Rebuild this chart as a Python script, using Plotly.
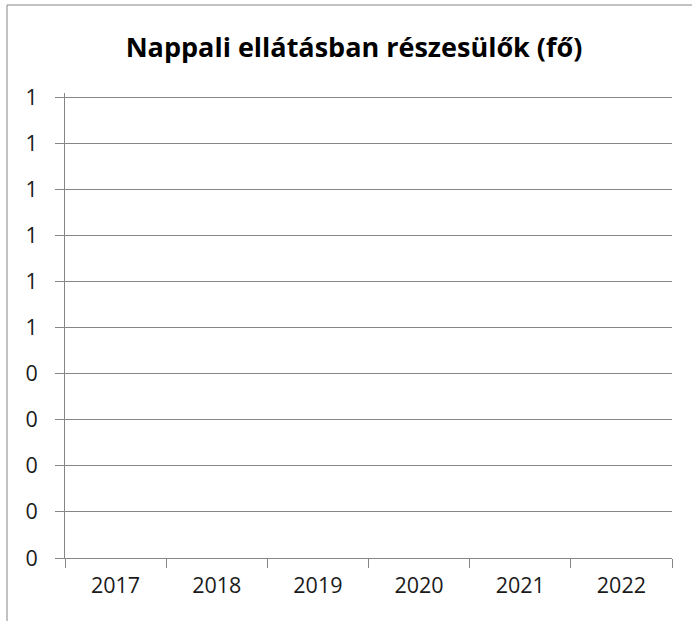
import plotly.graph_objects as go

categories = ["2017", "2018", "2019", "2020", "2021", "2022"]
values = [None, None, None, None, None, None]
y_tickvals = [0, 0.1, 0.2, 0.3, 0.4, 0.5, 0.6, 0.7, 0.8, 0.9, 1.0]
y_ticktext = ["0", "0", "0", "0", "0", "1", "1", "1", "1", "1", "1"]
title_text = "Nappali ellátásban részesülők (fő)"

grey = "#868686"
font_family = "Open Sans"

fig = go.Figure()
fig.add_trace(go.Bar(x=categories, y=values, marker_color="#4F81BD", showlegend=False))

fig.update_layout(
    width=692, height=621,
    margin=dict(l=65, r=20, t=93, b=63),
    paper_bgcolor="white", plot_bgcolor="white",
    title=dict(text="<b>" + title_text + "</b>", xref="container", x=354 / 692, xanchor="center",
               y=1 - 48 / 621, yanchor="middle",
               font=dict(family=font_family, size=27, color="black")),
    font=dict(family=font_family, size=21.5, color="#1a1a1a"),
    xaxis=dict(type="category", categoryorder="array", categoryarray=categories,
               showline=True, linecolor=grey, linewidth=1,
               ticks="outside", ticklen=9, tickcolor=grey, tickson="boundaries",
               showgrid=False, ticklabelstandoff=8, fixedrange=True),
    yaxis=dict(range=[0, 1.01], tickvals=y_tickvals, ticktext=y_ticktext,
               showline=True, linecolor=grey, linewidth=1,
               ticks="outside", ticklen=9, tickcolor=grey,
               showgrid=True, gridcolor=grey, gridwidth=1,
               zeroline=False, ticklabelstandoff=13, fixedrange=True),
    shapes=[
        dict(type="line", xref="paper", yref="paper",
             x0=(7 - 65) / 607, x1=(7 - 65) / 607, y0=(558 - 5) / 465, y1=(558 - 625) / 465,
             line=dict(color=grey, width=1)),
        dict(type="line", xref="paper", yref="paper",
             x0=(7 - 65) / 607, x1=(700 - 65) / 607, y0=(558 - 5) / 465, y1=(558 - 5) / 465,
             line=dict(color=grey, width=1)),
    ],
)

fig.write_html("out.html")
